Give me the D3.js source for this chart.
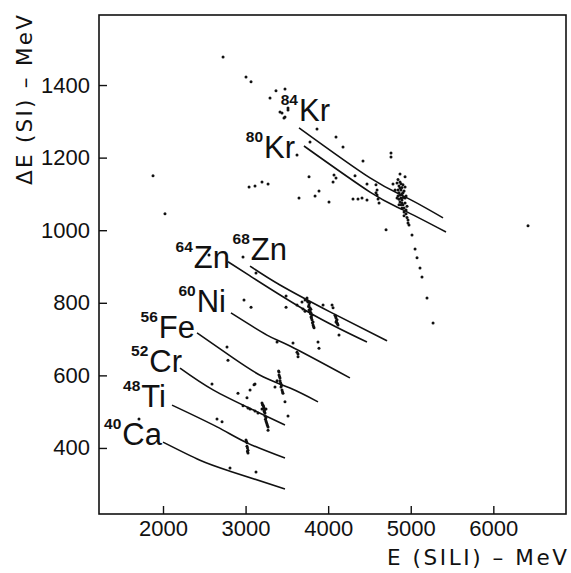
<!DOCTYPE html>
<html>
<head>
<meta charset="utf-8">
<script src="https://cdn.jsdelivr.net/npm/d3@7"></script>
<style>
  html, body { margin: 0; padding: 0; background: #fff; }
  svg { display: block; }
  text { font-family: "Liberation Sans", Arial, Helvetica, sans-serif; fill: #111; }
</style>
</head>
<body>
<svg id="chart" width="571" height="573"></svg>
<script>
// Isotope identification: ΔE (thin Si) versus residual E (Si(Li)) in MeV.
const massNumbers = [40, 48, 52, 56, 60, 64, 68, 80, 84];
const elements    = ["Ca", "Ti", "Cr", "Fe", "Ni", "Zn", "Zn", "Kr", "Kr"];

// Calculated ΔE–E lines, [E, ΔE] in MeV
const curveCa40 = [[2000, 416], [2448, 366], [2811, 336], [3477, 287]];
const curveTi48 = [[2109, 518], [2654, 458], [3017, 414], [3477, 372]];
const curveCr52 = [[2206, 620], [2606, 560], [3090, 505], [3477, 463]];
const curveFe56 = [[2412, 717], [2848, 648], [3211, 596], [3538, 565], [3877, 527]];
const curveNi60 = [[2823, 772], [3259, 711], [3538, 681], [4264, 593]];
const curveZn64 = [[2787, 913], [3054, 874], [3780, 772], [4470, 692]];
const curveZn68 = [[3054, 901], [3417, 849], [4022, 775], [4713, 695]];
const curveKr80 = [[3707, 1232], [4507, 1105], [4906, 1056], [5427, 995]];
const curveKr84 = [[3647, 1282], [4507, 1144], [4955, 1089], [5391, 1034]];
const curves = [curveCa40, curveTi48, curveCr52, curveFe56, curveNi60, curveZn64, curveZn68, curveKr80, curveKr84];

// Label anchor (right end, baseline) of each isotope name, [E, ΔE]
const labelAnchors = [[1988, 408], [2036, 513], [2230, 609], [2388, 703], [2763, 775],
                      [2811, 896], [3502, 918], [3599, 1199], [4022, 1301]];

// Measured events, [E, ΔE] in MeV
const eventsKr = [
  [2727, 1477], [3005, 1422], [3066, 1409], [3296, 1364], [3368, 1384], [3477, 1389],
  [3417, 1326], [3477, 1312], [3465, 1309], [3514, 1337], [3441, 1323], [3514, 1331],
  [1879, 1150], [3042, 1119], [3114, 1122], [3199, 1133], [3272, 1127], [2024, 1045],
  [3647, 1089], [3865, 1279], [4095, 1257], [4180, 1229], [3780, 1243], [3623, 1207],
  [4422, 1191], [4761, 1213], [4761, 1202], [3768, 1147], [4071, 1152], [4095, 1144],
  [4059, 1133], [4325, 1150], [4470, 1127], [3889, 1108], [3841, 1094], [4010, 1078],
  [4301, 1086], [4361, 1086], [4410, 1089], [4470, 1083], [4701, 1001], [6420, 1012],
  [4579, 1125], [4592, 1111], [4592, 1097], [4604, 1086], [4616, 1075], [4579, 1103],
  [4870, 1155], [4931, 1147], [4785, 1127], [4834, 1130], [4931, 1119], [4846, 1111],
  [4858, 1103], [4870, 1097], [4882, 1089], [4894, 1083], [4870, 1078], [4894, 1075],
  [4906, 1070], [4919, 1061], [4919, 1050], [4943, 1045], [4967, 1028], [4979, 1014],
  [5015, 987], [5052, 948], [5076, 924], [5112, 896], [5136, 871], [5197, 813], [5270, 744],
  [4858, 1122], [4882, 1111], [4846, 1094], [4906, 1103], [4834, 1089], [4931, 1089],
  [4894, 1061], [4943, 1056], [4810, 1111], [4870, 1133], [4870, 1116], [4894, 1100],
  [4858, 1085], [4882, 1070], [4906, 1090], [4846, 1140], [4906, 1125], [4919, 1108],
  [4943, 1094], [4931, 1075], [4955, 1066], [4919, 1040], [4955, 1035], [4967, 1020],
  [4858, 1070], [4894, 1118], [4882, 1128]
];
const eventsZnNi = [
  [2557, 932], [2969, 926], [3126, 882], [2981, 808], [3066, 788],
  [3490, 819], [3490, 788], [3623, 794], [3683, 802], [3744, 813], [3720, 777],
  [3695, 783], [3720, 808],
  [3756, 802], [3768, 794], [3780, 786], [3780, 777], [3792, 772], [3792, 761],
  [3804, 753], [3817, 747], [3817, 739], [3829, 731], [3768, 780], [3804, 766],
  [3750, 805], [3762, 790], [3786, 770], [3798, 758], [3810, 745], [3823, 735],
  [3775, 800], [3790, 782],
  [3938, 794], [4047, 794], [4059, 786],
  [4083, 766], [4095, 758], [4107, 753], [4107, 744], [4119, 739], [4095, 747],
  [4090, 762], [4101, 750], [4113, 742],
  [4131, 711], [3381, 692], [3574, 689], [3877, 692], [3889, 675],
  [3623, 664], [3635, 659], [3635, 651]
];
const eventsLight = [
  [2775, 678], [2787, 642], [2593, 576], [2908, 551], [3054, 560], [3114, 576], [3017, 538],
  [2654, 480], [2715, 472], [2811, 345], [3126, 334], [2969, 516], [3029, 510],
  [3102, 574], [3356, 568], [3477, 527], [3514, 488], [1709, 480],
  [3405, 609], [3405, 601], [3417, 593], [3417, 585], [3429, 576], [3429, 568],
  [3441, 560], [3453, 551], [3381, 585],
  [3411, 597], [3423, 580], [3435, 572], [3447, 555], [3400, 612],
  [3199, 524], [3211, 518], [3223, 510], [3223, 502], [3235, 496], [3235, 488],
  [3247, 483], [3247, 474], [3259, 466], [3272, 458], [3272, 449], [3199, 507], [3247, 507],
  [3205, 520], [3217, 514], [3229, 499], [3241, 479], [3265, 462], [3253, 470], [3230, 505],
  [3054, 507], [3114, 502], [3150, 496],
  [3005, 422], [3017, 414], [3017, 405], [3029, 394], [3029, 386],
  [3011, 418], [3023, 400], [3023, 390]
];

const xTicks = [2000, 3000, 4000, 5000, 6000];
const yTicks = [400, 600, 800, 1000, 1200, 1400];

const plot = { left: 99, top: 15, right: 566, bottom: 514 };

const svg = d3.select("#chart");
const x = d3.scaleLinear().domain([1225, 6880]).range([plot.left, plot.right]);
const y = d3.scaleLinear().domain([218, 1593]).range([plot.bottom, plot.top]);

// Axes with inward ticks
const xAxis = svg.append("g")
  .attr("transform", `translate(0,${plot.bottom})`)
  .call(d3.axisBottom(x).tickValues(xTicks).tickSize(-8).tickPadding(6).tickFormat(d3.format("d")));
const yAxis = svg.append("g")
  .attr("transform", `translate(${plot.left},0)`)
  .call(d3.axisLeft(y).tickValues(yTicks).tickSize(-8).tickPadding(9).tickFormat(d3.format("d")));
[xAxis, yAxis].forEach(g => {
  g.select(".domain").remove();
  g.selectAll(".tick line").attr("stroke", "#111").attr("stroke-width", 1.4);
  g.selectAll(".tick text")
    .style("font-family", '"Liberation Sans", Arial, sans-serif')
    .style("font-size", "22px").attr("fill", "#111");
});

// Frame
svg.append("rect")
  .attr("x", plot.left).attr("y", plot.top)
  .attr("width", plot.right - plot.left).attr("height", plot.bottom - plot.top)
  .attr("fill", "none").attr("stroke", "#111").attr("stroke-width", 1.6);

// Calculated lines
const line = d3.line().x(d => x(d[0])).y(d => y(d[1])).curve(d3.curveNatural);
svg.append("g").selectAll("path").data(curves).join("path")
  .attr("d", line).attr("fill", "none").attr("stroke", "#111").attr("stroke-width", 1.6);

// Events
const events = eventsKr.concat(eventsZnNi, eventsLight);
svg.append("g").selectAll("circle").data(events).join("circle")
  .attr("cx", d => x(d[0])).attr("cy", d => y(d[1])).attr("r", 1.5).attr("fill", "#111");

// Isotope names with mass-number superscripts
const labels = svg.append("g").selectAll("text").data(labelAnchors).join("text")
  .attr("x", d => x(d[0])).attr("y", d => y(d[1])).attr("text-anchor", "end");
labels.append("tspan")
  .attr("dy", -16).style("font-size", "15.5px").style("font-weight", "bold")
  .text((d, i) => massNumbers[i]);
labels.append("tspan")
  .attr("dy", 16).attr("dx", 1).style("font-size", "31px")
  .text((d, i) => elements[i]);

// Axis titles
svg.append("text")
  .attr("x", 387).attr("y", 565)
  .attr("textLength", 180).attr("lengthAdjust", "spacing")
  .style("font-family", '"DejaVu Sans", sans-serif')
  .style("font-size", "21.5px")
  .text("E (SILI) – MeV");
svg.append("text")
  .attr("transform", "translate(32,185) rotate(-90)")
  .attr("textLength", 170).attr("lengthAdjust", "spacing")
  .style("font-family", '"DejaVu Sans", sans-serif')
  .style("font-size", "21.5px")
  .text("ΔE (SI) – MeV");
</script>
</body>
</html>
